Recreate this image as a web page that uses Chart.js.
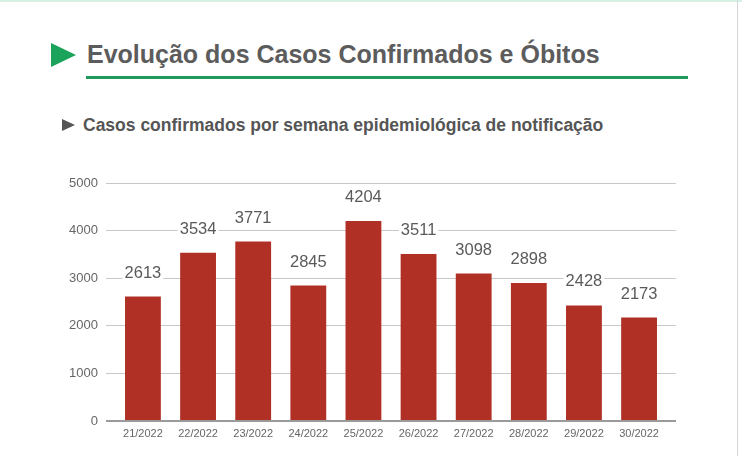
<!DOCTYPE html>
<html>
<head>
<meta charset="utf-8">
<script src="https://cdn.jsdelivr.net/npm/chart.js@4"></script>
<style>
    html, body { margin: 0; padding: 0; background: #fff; }
    body { width: 742px; height: 456px; position: relative; overflow: hidden; font-family: "Liberation Sans", Arial, sans-serif; }
    .top-line { position: absolute; left: 0; top: 0; width: 742px; height: 2px; background: #d4f1e4; }
    .right-line { position: absolute; left: 737px; top: 0; width: 1px; height: 456px; background: #d6d6d6; }
    .arrow { position: absolute; left: 51px; top: 43px; width: 0; height: 0;
             border-top: 12.5px solid transparent; border-bottom: 12.5px solid transparent; border-left: 25px solid #1aa35a; }
    .title { position: absolute; left: 87px; top: 40px; font-size: 25px; font-weight: bold; color: #5c5c5c; white-space: nowrap; }
    .rule { position: absolute; left: 86px; top: 76px; width: 602px; height: 3px; background: #1f9a5c; }
    .sub-arrow { position: absolute; left: 62px; top: 119px; width: 0; height: 0;
                 border-top: 6.5px solid transparent; border-bottom: 6.5px solid transparent; border-left: 13px solid #555; }
    .subtitle { position: absolute; left: 83px; top: 115px; font-size: 17.5px; font-weight: bold; color: #555; white-space: nowrap; }
    #chart { position: absolute; left: 0; top: 0; }
</style>
</head>
<body>
<div class="top-line"></div>
<div class="right-line"></div>
<div class="arrow"></div>
<div class="title">Evolução dos Casos Confirmados e Óbitos</div>
<div class="rule"></div>
<div class="sub-arrow"></div>
<div class="subtitle">Casos confirmados por semana epidemiológica de notificação</div>
<canvas id="chart" width="742" height="456"></canvas>
<script>
const weeks = ['21/2022', '22/2022', '23/2022', '24/2022', '25/2022', '26/2022', '27/2022', '28/2022', '29/2022', '30/2022'];
const cases = [2613, 3534, 3771, 2845, 4204, 3511, 3098, 2898, 2428, 2173];
const yTicks = [0, 1000, 2000, 3000, 4000, 5000];

// value labels above bars, with white box behind (covers gridline)
const valueLabels = {
    id: 'valueLabels',
    afterDatasetsDraw(chart) {
        const ctx = chart.ctx;
        const meta = chart.getDatasetMeta(0);
        ctx.save();
        ctx.font = '16.5px "Liberation Sans", Arial, sans-serif';
        ctx.textAlign = 'center';
        ctx.textBaseline = 'alphabetic';
        meta.data.forEach((bar, i) => {
            const txt = String(cases[i]);
            const w = ctx.measureText(txt).width;
            const yBase = bar.y - 19;
            ctx.fillStyle = '#fff';
            ctx.fillRect(bar.x - w / 2 - 2, yBase - 13, w + 4, 15);
            ctx.fillStyle = '#5a5a5a';
            ctx.fillText(txt, bar.x, yBase);
        });
        ctx.restore();
    }
};

new Chart(document.getElementById('chart'), {
    type: 'bar',
    data: {
        datasets: [{
            data: cases.map((v, i) => ({ x: i, y: v })),
            backgroundColor: '#b03026',
            borderWidth: 0,
            categoryPercentage: 1,
            barPercentage: 0.65
        }]
    },
    options: {
        responsive: false,
        animation: false,
        layout: { padding: { top: 183, right: 66, bottom: 14, left: 0 } },
        plugins: { legend: { display: false }, tooltip: { enabled: false } },
        scales: {
            y: {
                min: 0,
                max: 5000,
                afterFit: s => { s.width = 106; },
                afterBuildTicks: s => { s.ticks = yTicks.map(v => ({ value: v })); },
                grid: {
                    color: ctx => ctx.tick && ctx.tick.value === 0 ? '#9a9a9a' : '#c8c8c8',
                    lineWidth: ctx => ctx.tick && ctx.tick.value === 0 ? 2 : 1,
                    drawTicks: false
                },
                border: { display: false },
                ticks: {
                    color: '#666',
                    padding: 8,
                    callback: v => String(v),
                    font: { family: '"Liberation Sans", Arial, sans-serif', size: 13 }
                }
            },
            x: {
                type: 'linear',
                min: -0.67,
                max: weeks.length - 1 + 0.67,
                offset: false,
                afterFit: s => { s.height = 21; },
                afterBuildTicks: s => { s.ticks = weeks.map((w, i) => ({ value: i })); },
                grid: { display: false, drawTicks: false },
                border: { display: false },
                ticks: {
                    color: '#666',
                    padding: 6,
                    maxRotation: 0,
                    autoSkip: false,
                    callback: v => weeks[v],
                    font: { family: '"Liberation Sans", Arial, sans-serif', size: 11 }
                }
            }
        }
    },
    plugins: [valueLabels]
});
</script>
</body>
</html>
